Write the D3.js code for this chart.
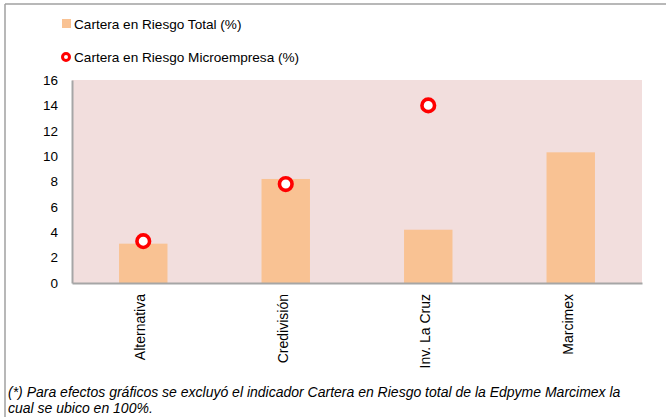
<!DOCTYPE html>
<html>
<head>
<meta charset="utf-8">
<script src="https://cdn.jsdelivr.net/npm/d3@7"></script>
<style>
  body { margin: 0; background: #fff; }
  svg { display: block; font-family: "Liberation Sans", Arial, sans-serif; }
</style>
</head>
<body>
<div id="chart-container"></div>
<script>
// data
const entidades = ["Alternativa", "Credivisión", "Inv. La Cruz", "Marcimex"]
const riesgoTotal = [3.1, 8.2, 4.2, 10.3]
const riesgoMicro = [3.3, 7.8, 14.0, null]
const yTicks = [0, 2, 4, 6, 8, 10, 12, 14, 16]
const serieNombres = ["Cartera en Riesgo Total (%)", "Cartera en Riesgo Microempresa (%)"]
const nota = ["(*) Para efectos gráficos se excluyó el indicador Cartera en Riesgo total de la Edpyme Marcimex la",
  "cual se ubico en 100%."]

const w = 666, h = 417
const m = { left: 72, right: 642, top: 80, bottom: 283 }

const svg = d3.select('#chart-container')
  .append('svg')
  .attr('width', w)
  .attr('height', h)

// outer frame (top + left visible)
svg.append('line')
  .attr('x1', 5).attr('x2', w).attr('y1', 4).attr('y2', 4)
  .attr('stroke', '#a0a0a0').attr('stroke-width', 1.5)
svg.append('line')
  .attr('x1', 5).attr('x2', 5).attr('y1', 4).attr('y2', h)
  .attr('stroke', '#a0a0a0').attr('stroke-width', 1.5)

const xScale = d3.scaleBand()
  .domain(entidades)
  .range([m.left, m.right])
  .paddingInner(0.66)
  .paddingOuter(0.33)

const yScale = d3.scaleLinear()
  .domain([0, 16])
  .range([m.bottom, m.top])

// plot area
svg.append('rect')
  .attr('x', m.left).attr('y', m.top)
  .attr('width', m.right - m.left).attr('height', m.bottom - m.top)
  .attr('fill', '#f2dedd')

// bars
svg.selectAll('rect.bar')
  .data(entidades)
  .enter()
  .append('rect')
  .attr('class', 'bar')
  .attr('x', d => xScale(d))
  .attr('y', (d, i) => yScale(riesgoTotal[i]))
  .attr('width', xScale.bandwidth())
  .attr('height', (d, i) => yScale(0) - yScale(riesgoTotal[i]))
  .attr('fill', '#f9c293')

// axes
const yAxis = d3.axisLeft(yScale).tickValues(yTicks).tickSize(0).tickPadding(14)
const gy = svg.append('g')
  .attr('transform', `translate(${m.left}, 0)`)
  .call(yAxis)
gy.select('.domain').attr('stroke', '#a6a6a6').attr('stroke-width', 2)
gy.selectAll('text').attr('font-size', 13.5).attr('fill', '#000')

const xAxis = d3.axisBottom(xScale).tickSize(0).tickSizeOuter(0)
const gx = svg.append('g')
  .attr('transform', `translate(0, ${m.bottom})`)
  .call(xAxis)
gx.select('.domain').attr('stroke', '#a6a6a6').attr('stroke-width', 2)
gx.selectAll('text')
  .attr('font-size', 14)
  .attr('fill', '#000')
  .attr('text-anchor', 'end')
  .attr('transform', 'rotate(-90)')
  .attr('x', -11)
  .attr('y', -3)
  .attr('dy', '0.35em')

// markers
const puntos = entidades.map((d, i) => ({ e: d, v: riesgoMicro[i] })).filter(d => d.v != null)
svg.selectAll('circle.micro')
  .data(puntos)
  .enter()
  .append('circle')
  .attr('class', 'micro')
  .attr('cx', d => xScale(d.e) + xScale.bandwidth() / 2)
  .attr('cy', d => yScale(d.v))
  .attr('r', 6.3)
  .attr('fill', '#fff')
  .attr('stroke', '#ff0000')
  .attr('stroke-width', 3.6)

// legend
const lg = svg.append('g').attr('font-size', 13.6)
lg.append('rect')
  .attr('x', 62).attr('y', 19).attr('width', 9).attr('height', 9)
  .attr('fill', '#f9c293')
lg.append('text').attr('x', 74).attr('y', 29).text(serieNombres[0])
lg.append('circle')
  .attr('cx', 66).attr('cy', 57).attr('r', 3.5)
  .attr('fill', '#fff').attr('stroke', '#ff0000').attr('stroke-width', 3)
lg.append('text').attr('x', 74).attr('y', 62).text(serieNombres[1])

// footnote
svg.selectAll('text.nota')
  .data(nota)
  .enter()
  .append('text')
  .attr('class', 'nota')
  .attr('x', 8)
  .attr('y', (d, i) => 397 + i * 16)
  .attr('font-size', 14)
  .attr('font-style', 'italic')
  .text(d => d)
</script>
</body>
</html>
